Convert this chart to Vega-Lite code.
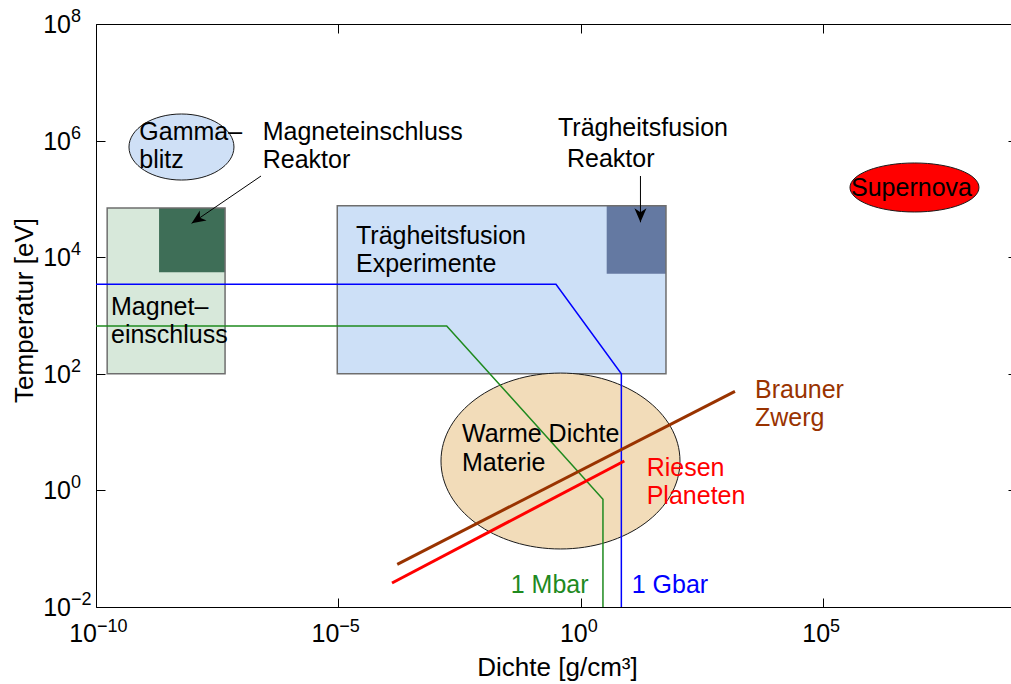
{
  "$schema": "https://vega.github.io/schema/vega-lite/v6.json",
  "width": 915,
  "height": 583,
  "autosize": {"type": "none"},
  "padding": {"left": 96, "top": 24, "right": 0, "bottom": 77},
  "background": "white",
  "config": {
    "view": {"stroke": null},
    "font": "Liberation Sans",
    "axis": {
      "grid": false,
      "domainColor": "black",
      "domainWidth": 1,
      "tickColor": "black",
      "tickWidth": 1,
      "titleFont": "Liberation Sans",
      "titleFontWeight": "normal",
      "titleColor": "black"
    }
  },
  "datasets": {
    "regions": [
      {"name": "Magneteinschluss", "kind": "light", "x": 1.7e-10, "x2": 4.6e-8, "y": 100, "y2": 70000},
      {"name": "Magneteinschluss Reaktor", "kind": "dark", "x": 2e-9, "x2": 4.6e-8, "y": 5500, "y2": 70000},
      {"name": "Trägheitsfusion Experimente", "kind": "light", "x": 9.5e-6, "x2": 57.5, "y": 100, "y2": 76000},
      {"name": "Trägheitsfusion Reaktor", "kind": "dark", "x": 3.44, "x2": 57.5, "y": 5200, "y2": 76000}
    ],
    "ellipses": [
      {"name": "Gammablitz", "x": 5.8e-9, "y": 776000},
      {"name": "Supernova", "x": 7.7e6, "y": 157000},
      {"name": "Warme Dichte Materie", "x": 0.383, "y": 3.19}
    ],
    "curves": [
      {"series": "1 Gbar", "i": 0, "x": 1e-10, "y": 3430},
      {"series": "1 Gbar", "i": 1, "x": 0.309, "y": 3430},
      {"series": "1 Gbar", "i": 2, "x": 6.9, "y": 100},
      {"series": "1 Gbar", "i": 3, "x": 6.9, "y": 0.01},
      {"series": "1 Mbar", "i": 0, "x": 1e-10, "y": 661},
      {"series": "1 Mbar", "i": 1, "x": 0.00172, "y": 661},
      {"series": "1 Mbar", "i": 2, "x": 2.88, "y": 0.703},
      {"series": "1 Mbar", "i": 3, "x": 2.88, "y": 0.01},
      {"series": "Brauner Zwerg", "i": 0, "x": 0.000164, "y": 0.054},
      {"series": "Brauner Zwerg", "i": 1, "x": 1524, "y": 50},
      {"series": "Riesen Planeten", "i": 0, "x": 0.000128, "y": 0.0258},
      {"series": "Riesen Planeten", "i": 1, "x": 7.94, "y": 3.19}
    ],
    "arrows": [
      {"name": "Magneteinschluss Reaktor", "x": 2.54e-7, "y": 247000, "x2": 9.4e-9, "y2": 38100},
      {"name": "Trägheitsfusion Reaktor", "x": 17.1, "y": 247000, "x2": 17.1, "y2": 39700}
    ],
    "labels": [
      {"text": "Gamma–", "series": "Annotation", "x": 7.82e-10, "y": 1020000},
      {"text": "blitz", "series": "Annotation", "x": 7.82e-10, "y": 335000},
      {"text": "Magneteinschluss", "series": "Annotation", "x": 2.75e-7, "y": 1020000},
      {"text": "Reaktor", "series": "Annotation", "x": 2.75e-7, "y": 335000},
      {"text": "Trägheitsfusion", "series": "Annotation", "x": 0.34, "y": 1200000},
      {"text": "Reaktor", "series": "Annotation", "x": 0.522, "y": 356000},
      {"text": "Supernova", "series": "Annotation", "x": 378000, "y": 114000},
      {"text": "Trägheitsfusion", "series": "Annotation", "x": 2.31e-5, "y": 16800},
      {"text": "Experimente", "series": "Annotation", "x": 2.31e-5, "y": 5570},
      {"text": "Magnet–", "series": "Annotation", "x": 2.04e-10, "y": 1021},
      {"text": "einschluss", "series": "Annotation", "x": 2.04e-10, "y": 333},
      {"text": "Warme Dichte", "series": "Annotation", "x": 0.00356, "y": 6.69},
      {"text": "Materie", "series": "Annotation", "x": 0.00356, "y": 2.15},
      {"text": "Riesen", "series": "Riesen Planeten", "x": 23.0, "y": 1.79},
      {"text": "Planeten", "series": "Riesen Planeten", "x": 23.0, "y": 0.578},
      {"text": "Brauner", "series": "Brauner Zwerg", "x": 3945, "y": 38.0},
      {"text": "Zwerg", "series": "Brauner Zwerg", "x": 3945, "y": 12.7},
      {"text": "1 Mbar", "series": "1 Mbar", "x": 0.036, "y": 0.0174},
      {"text": "1 Gbar", "series": "1 Gbar", "x": 11.3, "y": 0.0174}
    ],
    "xticks": [
      {"x": 1e-10, "y": 0.01, "e": "−10"},
      {"x": 1e-5, "y": 0.01, "e": "−5"},
      {"x": 1, "y": 0.01, "e": "0"},
      {"x": 1e5, "y": 0.01, "e": "5"}
    ],
    "yticks": [
      {"x": 1e-10, "y": 0.01, "e": "−2"},
      {"x": 1e-10, "y": 1, "e": "0"},
      {"x": 1e-10, "y": 100, "e": "2"},
      {"x": 1e-10, "y": 10000, "e": "4"},
      {"x": 1e-10, "y": 1000000, "e": "6"},
      {"x": 1e-10, "y": 100000000, "e": "8"}
    ]
  },
  "encoding": {
    "x": {"field": "x", "type": "quantitative", "scale": {"type": "log", "domain": [1e-10, 7.55e8], "nice": false}, "axis": null},
    "y": {"field": "y", "type": "quantitative", "scale": {"type": "log", "domain": [0.01, 1e8], "nice": false}, "axis": null}
  },
  "resolve": {"axis": {"x": "independent", "y": "independent"}},
  "layer": [
    {
      "data": {"name": "regions"},
      "transform": [{"filter": "datum.kind === 'light'"}],
      "mark": {"type": "rect", "strokeWidth": 0},
      "encoding": {
        "x": {
          "field": "x", "type": "quantitative",
          "scale": {"type": "log", "domain": [1e-10, 7.55e8], "nice": false},
          "axis": {
            "orient": "bottom", "values": [1e-10, 1e-5, 1, 1e5], "labels": false, "tickSize": -9,
            "title": "Dichte [g/cm³]", "titleFontSize": 26, "titleX": 461, "titleY": 68,
            "titleAlign": "center", "titleBaseline": "alphabetic", "titleAnchor": null
          }
        },
        "x2": {"field": "x2"},
        "y": {
          "field": "y", "type": "quantitative",
          "scale": {"type": "log", "domain": [0.01, 1e8], "nice": false},
          "axis": {
            "orient": "left", "values": [0.01, 1, 100, 10000, 1000000, 100000000], "labels": false, "tickSize": -9,
            "title": "Temperatur [eV]", "titleFontSize": 26, "titleX": -64, "titleY": 286, "titleAngle": 270,
            "titleAlign": "center", "titleBaseline": "alphabetic", "titleAnchor": null
          }
        },
        "y2": {"field": "y2"},
        "fill": {
          "field": "name", "type": "nominal", "legend": null,
          "scale": {
            "domain": ["Magneteinschluss", "Magneteinschluss Reaktor", "Trägheitsfusion Experimente", "Trägheitsfusion Reaktor"],
            "range": ["#d7e8da", "#3e6e57", "#cde0f7", "#6479a2"]
          }
        }
      }
    },
    {
      "data": {"name": "regions"},
      "transform": [{"filter": "datum.kind === 'dark'"}],
      "mark": {"type": "rect", "strokeWidth": 0},
      "encoding": {
        "x2": {"field": "x2"},
        "y2": {"field": "y2"},
        "fill": {
          "field": "name", "type": "nominal", "legend": null,
          "scale": {
            "domain": ["Magneteinschluss", "Magneteinschluss Reaktor", "Trägheitsfusion Experimente", "Trägheitsfusion Reaktor"],
            "range": ["#d7e8da", "#3e6e57", "#cde0f7", "#6479a2"]
          }
        }
      }
    },
    {
      "data": {"name": "regions"},
      "transform": [{"filter": "datum.kind === 'light'"}],
      "mark": {"type": "rect", "fillOpacity": 0, "stroke": "#6e6e6e", "strokeWidth": 1.5},
      "encoding": {
        "x": {
          "field": "x", "type": "quantitative",
          "scale": {"type": "log", "domain": [1e-10, 7.55e8], "nice": false},
          "axis": {"orient": "top", "values": [1e-10, 1e-5, 1, 1e5], "labels": false, "tickSize": -9, "title": null}
        },
        "x2": {"field": "x2"},
        "y": {
          "field": "y", "type": "quantitative",
          "scale": {"type": "log", "domain": [0.01, 1e8], "nice": false},
          "axis": {"orient": "right", "values": [0.01, 1, 100, 10000, 1000000, 100000000], "labels": false, "tickSize": -3, "domain": false, "title": null}
        },
        "y2": {"field": "y2"}
      }
    },
    {
      "data": {"name": "ellipses"},
      "transform": [{"filter": "datum.name === 'Gammablitz'"}],
      "mark": {
        "type": "point", "filled": true, "opacity": 1, "fill": "#cfe0f6", "stroke": "#1a1a1a", "strokeWidth": 1, "size": 11025,
        "shape": "M-1,0C-1,-0.3474,-0.5523,-0.629,0,-0.629C0.5523,-0.629,1,-0.3474,1,0C1,0.3474,0.5523,0.629,0,0.629C-0.5523,0.629,-1,0.3474,-1,0Z"
      }
    },
    {
      "data": {"name": "ellipses"},
      "transform": [{"filter": "datum.name === 'Supernova'"}],
      "mark": {
        "type": "point", "filled": true, "opacity": 1, "fill": "#ff0000", "stroke": "#1a1a1a", "strokeWidth": 1, "size": 16641,
        "shape": "M-1,0C-1,-0.2099,-0.5523,-0.38,0,-0.38C0.5523,-0.38,1,-0.2099,1,0C1,0.2099,0.5523,0.38,0,0.38C-0.5523,0.38,-1,0.2099,-1,0Z"
      }
    },
    {
      "data": {"name": "ellipses"},
      "transform": [{"filter": "datum.name === 'Warme Dichte Materie'"}],
      "mark": {
        "type": "point", "filled": true, "opacity": 1, "fill": "#f2dcb9", "stroke": "#1a1a1a", "strokeWidth": 1, "size": 57121,
        "shape": "M-1,0C-1,-0.4065,-0.5523,-0.736,0,-0.736C0.5523,-0.736,1,-0.4065,1,0C1,0.4065,0.5523,0.736,0,0.736C-0.5523,0.736,-1,0.4065,-1,0Z"
      }
    },
    {
      "data": {"name": "curves"},
      "transform": [{"filter": "datum.series === '1 Gbar' || datum.series === '1 Mbar'"}],
      "mark": {"type": "line", "strokeWidth": 1.5},
      "encoding": {
        "order": {"field": "i", "type": "quantitative"},
        "color": {
          "field": "series", "type": "nominal", "legend": null,
          "scale": {"domain": ["Annotation", "1 Mbar", "1 Gbar", "Brauner Zwerg", "Riesen Planeten"], "range": ["#000000", "#1f8a1f", "#0000ff", "#993300", "#ff0000"]}
        }
      }
    },
    {
      "data": {"name": "curves"},
      "transform": [{"filter": "datum.series === 'Brauner Zwerg' || datum.series === 'Riesen Planeten'"}],
      "mark": {"type": "line", "strokeWidth": 3},
      "encoding": {
        "order": {"field": "i", "type": "quantitative"},
        "color": {
          "field": "series", "type": "nominal", "legend": null,
          "scale": {"domain": ["Annotation", "1 Mbar", "1 Gbar", "Brauner Zwerg", "Riesen Planeten"], "range": ["#000000", "#1f8a1f", "#0000ff", "#993300", "#ff0000"]}
        }
      }
    },
    {
      "data": {"name": "arrows"},
      "mark": {"type": "rule", "color": "black", "strokeWidth": 1},
      "encoding": {
        "x2": {"field": "x2"},
        "y2": {"field": "y2"}
      }
    },
    {
      "data": {"name": "arrows"},
      "transform": [{"filter": "datum.name === 'Magneteinschluss Reaktor'"}],
      "mark": {"type": "point", "filled": true, "opacity": 1, "color": "black", "strokeWidth": 0, "size": 784, "angle": 145.7, "shape": "M0,0L-1,-0.43L-0.72,0L-1,0.43Z"},
      "encoding": {
        "x": {"field": "x2", "type": "quantitative", "scale": {"type": "log", "domain": [1e-10, 7.55e8], "nice": false}, "axis": null},
        "y": {"field": "y2", "type": "quantitative", "scale": {"type": "log", "domain": [0.01, 1e8], "nice": false}, "axis": null}
      }
    },
    {
      "data": {"name": "arrows"},
      "transform": [{"filter": "datum.name === 'Trägheitsfusion Reaktor'"}],
      "mark": {"type": "point", "filled": true, "opacity": 1, "color": "black", "strokeWidth": 0, "size": 784, "angle": 90, "shape": "M0,0L-1,-0.43L-0.72,0L-1,0.43Z"},
      "encoding": {
        "x": {"field": "x2", "type": "quantitative", "scale": {"type": "log", "domain": [1e-10, 7.55e8], "nice": false}, "axis": null},
        "y": {"field": "y2", "type": "quantitative", "scale": {"type": "log", "domain": [0.01, 1e8], "nice": false}, "axis": null}
      }
    },
    {
      "data": {"name": "labels"},
      "mark": {"type": "text", "align": "left", "baseline": "alphabetic", "fontSize": 25, "font": "Liberation Sans"},
      "encoding": {
        "text": {"field": "text"},
        "color": {
          "field": "series", "type": "nominal", "legend": null,
          "scale": {"domain": ["Annotation", "1 Mbar", "1 Gbar", "Brauner Zwerg", "Riesen Planeten"], "range": ["#000000", "#1f8a1f", "#0000ff", "#993300", "#ff0000"]}
        }
      }
    },
    {
      "data": {"name": "yticks"},
      "mark": {"type": "text", "text": "10", "align": "right", "baseline": "alphabetic", "dx": -25, "dy": 9, "fontSize": 25, "font": "Liberation Sans", "color": "black"}
    },
    {
      "data": {"name": "yticks"},
      "mark": {"type": "text", "align": "left", "baseline": "alphabetic", "dx": -25, "dy": -2, "fontSize": 18, "font": "Liberation Sans", "color": "black"},
      "encoding": {"text": {"field": "e"}}
    },
    {
      "data": {"name": "xticks"},
      "transform": [{"filter": "datum.x < 1"}],
      "mark": {"type": "text", "text": "10", "align": "right", "baseline": "alphabetic", "dx": 1, "dy": 35, "fontSize": 25, "font": "Liberation Sans", "color": "black"}
    },
    {
      "data": {"name": "xticks"},
      "transform": [{"filter": "datum.x < 1"}],
      "mark": {"type": "text", "align": "left", "baseline": "alphabetic", "dx": 1, "dy": 25, "fontSize": 18, "font": "Liberation Sans", "color": "black"},
      "encoding": {"text": {"field": "e"}}
    },
    {
      "data": {"name": "xticks"},
      "transform": [{"filter": "datum.x >= 1"}],
      "mark": {"type": "text", "text": "10", "align": "right", "baseline": "alphabetic", "dx": 7, "dy": 35, "fontSize": 25, "font": "Liberation Sans", "color": "black"}
    },
    {
      "data": {"name": "xticks"},
      "transform": [{"filter": "datum.x >= 1"}],
      "mark": {"type": "text", "align": "left", "baseline": "alphabetic", "dx": 7, "dy": 25, "fontSize": 18, "font": "Liberation Sans", "color": "black"},
      "encoding": {"text": {"field": "e"}}
    }
  ]
}
